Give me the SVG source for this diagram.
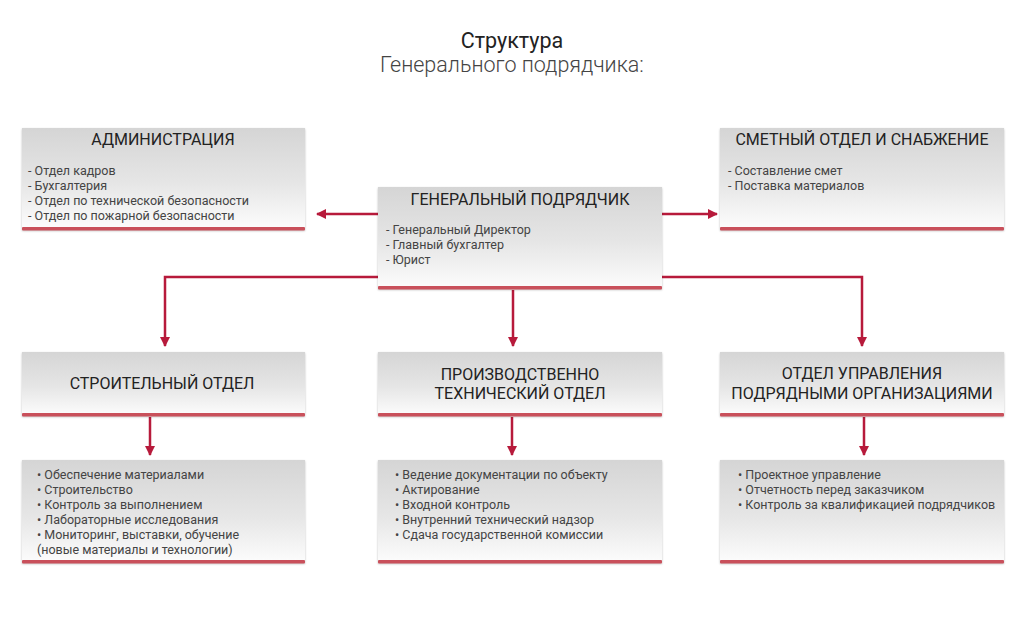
<svg xmlns="http://www.w3.org/2000/svg" width="1024" height="624" viewBox="0 0 1024 624">
<defs>
<linearGradient id="g" x1="0" y1="0" x2="0" y2="1">
<stop offset="0" stop-color="#d5d5d5"/>
<stop offset="0.55" stop-color="#e6e6e6"/>
<stop offset="1" stop-color="#fdfdfd"/>
</linearGradient>
<marker id="ah" viewBox="0 0 10 10" refX="9" refY="5" markerWidth="10" markerHeight="10" markerUnits="userSpaceOnUse" orient="auto">
<path d="M0,0 L10,5 L0,10 z" fill="#b71a3b"/>
</marker>
<filter id="sh" x="-5%" y="-5%" width="110%" height="115%">
<feGaussianBlur in="SourceAlpha" stdDeviation="1.2"/>
<feOffset dy="1"/>
<feComponentTransfer><feFuncA type="linear" slope="0.25"/></feComponentTransfer>
<feMerge><feMergeNode/><feMergeNode in="SourceGraphic"/></feMerge>
</filter>
</defs>
<style>
.box{fill:url(#g);filter:url(#sh)}
.bar{fill:#c9505b}
.title{font-family:Roboto,"Liberation Sans",sans-serif;font-size:21.5px;fill:#222;text-anchor:middle}
.sub{font-family:Roboto,"Liberation Sans",sans-serif;font-size:21.5px;fill:#444;text-anchor:middle;font-weight:300}
.h{font-family:Roboto,"Liberation Sans",sans-serif;font-size:16px;fill:#222;text-anchor:middle}
.it{font-family:Roboto,"Liberation Sans",sans-serif;font-size:12.5px;fill:#444}
.c{fill:none;stroke:#b71a3b;stroke-width:2.5}
</style>
<rect width="1024" height="624" fill="#ffffff"/>
<g id="title">
<text class="title" x="512" y="48">Структура</text>
<text class="sub" x="512" y="72">Генерального подрядчика:</text>
</g>
<g id="connectors">
<line class="c" x1="378" y1="214" x2="317" y2="214" marker-end="url(#ah)"/>
<line class="c" x1="662" y1="214" x2="717" y2="214" marker-end="url(#ah)"/>
<polyline class="c" points="378,277 165,277 165,346" marker-end="url(#ah)"/>
<line class="c" x1="513" y1="290" x2="513" y2="346" marker-end="url(#ah)"/>
<polyline class="c" points="662,277 862,277 862,346" marker-end="url(#ah)"/>
<line class="c" x1="150" y1="417" x2="150" y2="455" marker-end="url(#ah)"/>
<line class="c" x1="512" y1="417" x2="512" y2="455" marker-end="url(#ah)"/>
<line class="c" x1="864" y1="417" x2="864" y2="455" marker-end="url(#ah)"/>
</g>
<g id="admin">
<rect class="box" x="22" y="128" width="283" height="102"/>
<rect class="bar" x="22" y="227" width="283" height="3.5" rx="1"/>
<text class="h" x="163" y="145">АДМИНИСТРАЦИЯ</text>
<text class="it" x="28" y="175">- Отдел кадров</text>
<text class="it" x="28" y="190">- Бухгалтерия</text>
<text class="it" x="28" y="205">- Отдел по технической безопасности</text>
<text class="it" x="28" y="220">- Отдел по пожарной безопасности</text>
</g>
<g id="general">
<rect class="box" x="378" y="187" width="284" height="102"/>
<rect class="bar" x="378" y="286" width="284" height="3.5" rx="1"/>
<text class="h" x="520" y="205">ГЕНЕРАЛЬНЫЙ ПОДРЯДЧИК</text>
<text class="it" x="386" y="234">- Генеральный Директор</text>
<text class="it" x="386" y="249">- Главный бухгалтер</text>
<text class="it" x="386" y="264">- Юрист</text>
</g>
<g id="smeta">
<rect class="box" x="720" y="128" width="284" height="102"/>
<rect class="bar" x="720" y="227" width="284" height="3.5" rx="1"/>
<text class="h" x="862" y="145">СМЕТНЫЙ ОТДЕЛ И СНАБЖЕНИЕ</text>
<text class="it" x="728" y="175">- Составление смет</text>
<text class="it" x="728" y="190">- Поставка материалов</text>
</g>
<g id="stroy">
<rect class="box" x="22" y="352" width="283" height="64"/>
<rect class="bar" x="22" y="413" width="283" height="3.5" rx="1"/>
<text class="h" x="162" y="389">СТРОИТЕЛЬНЫЙ ОТДЕЛ</text>
</g>
<g id="pto">
<rect class="box" x="378" y="352" width="284" height="64"/>
<rect class="bar" x="378" y="413" width="284" height="3.5" rx="1"/>
<text class="h" x="520" y="380">ПРОИЗВОДСТВЕННО</text>
<text class="h" x="520" y="399">ТЕХНИЧЕСКИЙ ОТДЕЛ</text>
</g>
<g id="oupo">
<rect class="box" x="720" y="352" width="284" height="64"/>
<rect class="bar" x="720" y="413" width="284" height="3.5" rx="1"/>
<text class="h" x="862" y="379">ОТДЕЛ УПРАВЛЕНИЯ</text>
<text class="h" x="862" y="399">ПОДРЯДНЫМИ ОРГАНИЗАЦИЯМИ</text>
</g>
<g id="stroy-list">
<rect class="box" x="22" y="460" width="283" height="103"/>
<rect class="bar" x="22" y="560" width="283" height="3.5" rx="1"/>
<text class="it" x="37" y="479">• Обеспечение материалами</text>
<text class="it" x="37" y="494">• Строительство</text>
<text class="it" x="37" y="509">• Контроль за выполнением</text>
<text class="it" x="37" y="524">• Лабораторные исследования</text>
<text class="it" x="37" y="539">• Мониторинг, выставки, обучение</text>
<text class="it" x="37" y="554">(новые материалы и технологии)</text>
</g>
<g id="pto-list">
<rect class="box" x="378" y="460" width="284" height="103"/>
<rect class="bar" x="378" y="560" width="284" height="3.5" rx="1"/>
<text class="it" x="395" y="479">• Ведение документации по объекту</text>
<text class="it" x="395" y="494">• Актирование</text>
<text class="it" x="395" y="509">• Входной контроль</text>
<text class="it" x="395" y="524">• Внутренний технический надзор</text>
<text class="it" x="395" y="539">• Сдача государственной комиссии</text>
</g>
<g id="oupo-list">
<rect class="box" x="720" y="460" width="284" height="103"/>
<rect class="bar" x="720" y="560" width="284" height="3.5" rx="1"/>
<text class="it" x="738" y="479">• Проектное управление</text>
<text class="it" x="738" y="494">• Отчетность перед заказчиком</text>
<text class="it" x="738" y="509">• Контроль за квалификацией подрядчиков</text>
</g>
</svg>
